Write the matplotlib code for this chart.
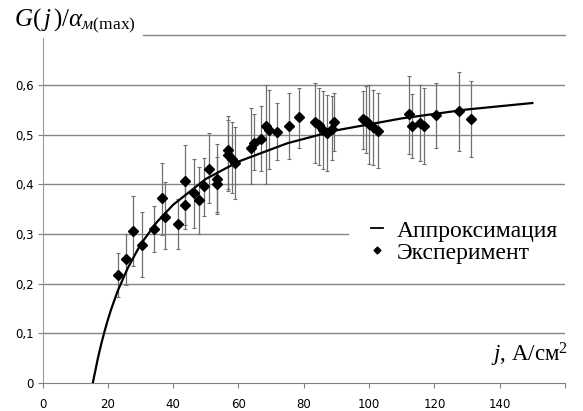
import matplotlib
matplotlib.use("Agg")
import matplotlib.pyplot as plt
import numpy as np

plt.rcParams['mathtext.fontset'] = 'custom'
plt.rcParams['mathtext.rm'] = 'Liberation Serif'
plt.rcParams['mathtext.it'] = 'Liberation Serif:italic'

# Experimental points: current density j, value, lower and upper error bound
j_exp = [23.2, 25.6, 27.8, 30.5, 34.2, 36.5, 37.6, 41.4, 43.5, 43.5,
         46.3, 48.0, 49.4, 51.0, 53.3, 53.3, 56.8, 56.8, 58.1, 58.9,
         63.7, 64.8, 66.9, 68.3, 69.4, 71.9, 75.6, 78.5,
         83.5, 84.7, 86.0, 87.0, 88.5, 89.3,
         98.2, 99.0, 100.0, 101.2, 102.6,
         112.1, 113.2, 115.6, 116.8, 120.4, 127.5, 131.2]
g_exp = [0.217, 0.249, 0.306, 0.278, 0.311, 0.372, 0.335, 0.320, 0.406, 0.358,
         0.383, 0.368, 0.396, 0.431, 0.411, 0.400, 0.469, 0.460, 0.451, 0.444,
         0.474, 0.484, 0.492, 0.518, 0.510, 0.506, 0.518, 0.535,
         0.525, 0.519, 0.509, 0.504, 0.512, 0.525,
         0.531, 0.527, 0.521, 0.515, 0.508,
         0.541, 0.518, 0.524, 0.518, 0.539, 0.548, 0.532]
g_low = [0.174, 0.197, 0.235, 0.214, 0.264, 0.298, 0.269, 0.269, 0.311, 0.318,
         0.313, 0.301, 0.337, 0.362, 0.340, 0.345, 0.386, 0.390, 0.383, 0.370,
         0.400, 0.429, 0.427, 0.400, 0.431, 0.449, 0.451, 0.474,
         0.444, 0.439, 0.432, 0.427, 0.449, 0.467,
         0.472, 0.464, 0.442, 0.439, 0.433,
         0.461, 0.454, 0.447, 0.442, 0.473, 0.467, 0.455]
g_high = [0.261, 0.301, 0.376, 0.344, 0.356, 0.444, 0.404, 0.371, 0.479, 0.400,
          0.452, 0.435, 0.454, 0.504, 0.482, 0.455, 0.537, 0.530, 0.526, 0.516,
          0.554, 0.541, 0.557, 0.600, 0.591, 0.564, 0.585, 0.595,
          0.604, 0.595, 0.588, 0.581, 0.578, 0.585,
          0.588, 0.598, 0.600, 0.591, 0.585,
          0.618, 0.583, 0.601, 0.594, 0.605, 0.626, 0.608]

# Approximation curve
j_fit = [15.4, 17, 18, 19, 20, 21, 23, 26, 30, 35, 40, 50, 60, 75, 90, 110, 130, 150]
g_fit = [0.0, 0.051, 0.079, 0.104, 0.127, 0.148, 0.185, 0.230, 0.279, 0.324,
         0.359, 0.411, 0.446, 0.483, 0.509, 0.533, 0.551, 0.564]

x_ticks = [0, 20, 40, 60, 80, 100, 120, 140, 160]
x_labels = ['0', '20', '40', '60', '80', '100', '120', '140', '']
y_ticks = [0, 0.1, 0.2, 0.3, 0.4, 0.5, 0.6]
y_labels = ['0', '0,1', '0,2', '0,3', '0,4', '0,5', '0,6']

W, H = 583, 411
fig = plt.figure(figsize=(W / 100, H / 100), dpi=100)
ax = fig.add_axes([42.5 / W, 1 - 383 / H, (565 - 42.5) / W, (383 - 35.5) / H])
ax.set_xlim(0, 160)
ax.set_ylim(0, 0.7)

grid_c = '#858585'
for v in [0.1, 0.2, 0.4, 0.5, 0.6]:
    ax.axhline(v, color=grid_c, lw=1.0, zorder=0)
ax.plot([0, 93.5], [0.3, 0.3], color=grid_c, lw=1.0, zorder=0, clip_on=False)
ax.plot([30.8, 160], [0.7, 0.7], color=grid_c, lw=1.0, zorder=0, clip_on=False)

for s in ['top', 'right']:
    ax.spines[s].set_visible(False)
ax.spines['left'].set_color('#9a9a9a')
ax.spines['bottom'].set_color('#808080')
ax.spines['left'].set_bounds(0, 0.695)

ax.set_xticks(x_ticks)
ax.set_xticklabels(x_labels)
ax.set_yticks(y_ticks)
ax.set_yticklabels(y_labels)
ax.tick_params(axis='both', direction='out', length=3.5, width=0.8, colors='#808080',
               labelcolor='black', labelsize=8.5)
ax.tick_params(axis='x', pad=7)
ax.tick_params(axis='y', pad=3)

g = np.array(g_exp)
yerr = [g - np.array(g_low), np.array(g_high) - g]
ax.errorbar(j_exp, g_exp, yerr=yerr, fmt='none', ecolor='#707070', elinewidth=0.9,
            capsize=1.6, capthick=0.8, zorder=2)
ax.plot(j_fit, g_fit, color='black', lw=1.6, zorder=3, label='Аппроксимация')
ax.plot(j_exp, g_exp, linestyle='none', marker='D', ms=5.5, color='black', zorder=4,
        label='Эксперимент')

leg_handles = [
    plt.Line2D([], [], color='black', lw=1.3),
    plt.Line2D([], [], linestyle='none', marker='D', ms=3.5, color='black'),
]
ax.legend(leg_handles, ['Аппроксимация', 'Эксперимент'],
          loc='upper left', bbox_to_anchor=(371 / W, 1 - 220 / H),
          bbox_transform=fig.transFigure, frameon=False, borderpad=0,
          borderaxespad=0, handlelength=0.5, handletextpad=0.6,
          labelspacing=0.02, prop={'family': 'Liberation Serif', 'size': 17})

fig.text(14 / W, 1 - 26 / H, r'$G(\,j\,)/\alpha_{м(\mathrm{max})}$', fontsize=18,
         ha='left', va='baseline')
fig.text(568 / W, 1 - 361 / H, r'$j$, A/см$^{\mathrm{2}}$', fontsize=16.5,
         family='Liberation Serif', ha='right', va='baseline')

fig.savefig('out.png', dpi=100)
